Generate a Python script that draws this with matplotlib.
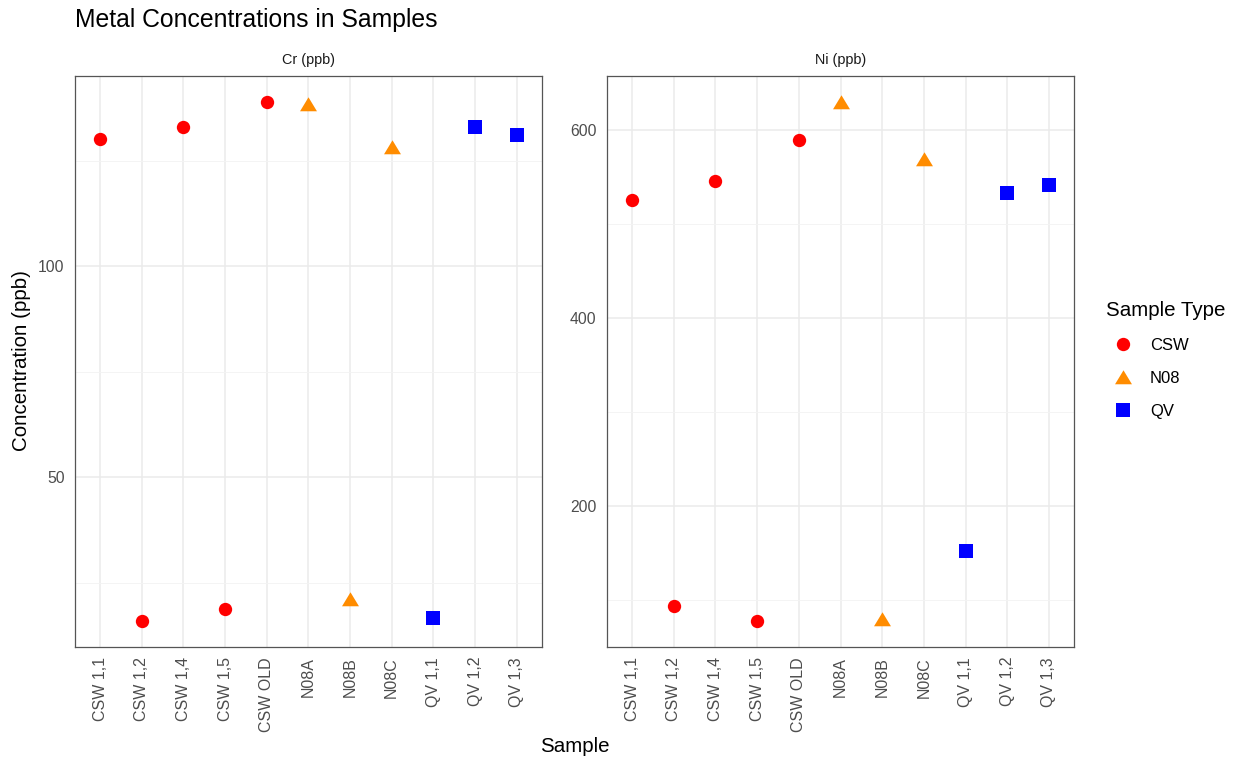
import matplotlib
matplotlib.use("Agg")
import matplotlib.pyplot as plt
from matplotlib.ticker import FixedLocator
from matplotlib.lines import Line2D

plt.rcParams['font.family'] = ['Liberation Sans', 'DejaVu Sans']

samples = ["CSW 1,1", "CSW 1,2", "CSW 1,4", "CSW 1,5", "CSW OLD",
           "N08A", "N08B", "N08C", "QV 1,1", "QV 1,2", "QV 1,3"]
sample_type = ["CSW", "CSW", "CSW", "CSW", "CSW",
               "N08", "N08", "N08", "QV", "QV", "QV"]
cr_ppb = [130.0, 16.0, 133.0, 18.8, 138.9, 138.3, 21.2, 128.2, 16.6, 132.9, 131.0]
ni_ppb = [526.0, 94.0, 546.0, 78.5, 589.4, 630.0, 80.0, 569.2, 152.6, 533.2, 542.0]

types = ["CSW", "N08", "QV"]
type_colors = {"CSW": "#FF0000", "N08": "#FF8C00", "QV": "#0000FF"}
# slightly flattened triangle, like the filled triangle glyph of R graphics
tri = [(0, 0.85), (-1, -0.8), (1, -0.8), (0, 0.85)]
type_markers = {"CSW": "o", "N08": tri, "QV": "s"}
type_sizes = {"CSW": 9.6, "N08": 12.2, "QV": 9.8}

panels = [
    ("Cr (ppb)", cr_ppb, [50, 100], [25, 75, 125]),
    ("Ni (ppb)", ni_ppb, [200, 400, 600], [100, 300, 500]),
]

fig = plt.figure(figsize=(12.39, 7.61), dpi=100)
W, H = 1239, 761
axes_px = [(75, 541.7), (607, 1074)]
top_px, bot_px = 76, 646.5

grid_major = "#EBEBEB"
grid_minor = "#F3F3F3"
text_gray = "#4D4D4D"

for (label, values, majors, minors), (x0, x1) in zip(panels, axes_px):
    ax = fig.add_axes([x0 / W, (H - bot_px) / H, (x1 - x0) / W, (bot_px - top_px) / H])
    xs = list(range(len(samples)))
    for t in types:
        px = [x for x, s in zip(xs, sample_type) if s == t]
        py = [v for v, s in zip(values, sample_type) if s == t]
        ax.plot(px, py, linestyle="none", marker=type_markers[t],
                markersize=type_sizes[t], color=type_colors[t],
                markeredgewidth=0, zorder=3)
    vmin, vmax = min(values), max(values)
    pad = (vmax - vmin) * 0.05
    ax.set_ylim(vmin - pad, vmax + pad)
    ax.set_xlim(-0.6, len(samples) - 1 + 0.6)

    ax.set_xticks(xs)
    ax.set_xticklabels(samples, rotation=90, fontsize=11.5, color=text_gray)
    ax.yaxis.set_major_locator(FixedLocator(majors))
    ax.yaxis.set_minor_locator(FixedLocator(minors))
    ax.set_yticklabels([str(m) for m in majors], fontsize=11.3, color=text_gray)
    ax.tick_params(axis="both", which="both", length=0, pad=7.5)

    ax.grid(True, which="major", axis="both", color=grid_major, linewidth=1.1, zorder=0)
    ax.grid(True, which="minor", axis="y", color=grid_minor, linewidth=0.6, zorder=0)
    ax.set_axisbelow(True)
    for sp in ax.spines.values():
        sp.set_color("#555555")
        sp.set_linewidth(0.9)

    strip_off = 16 / (bot_px - top_px)
    ax.text(0.5, 1 + strip_off, label, transform=ax.transAxes, fontsize=10.4,
            color="#1A1A1A", ha="center", va="center")

fig.text(75 / W, 1 - 20 / H, "Metal Concentrations in Samples",
         fontsize=17.8, ha="left", va="center", color="black")
fig.text(574.5 / W, 1 - 747 / H, "Sample", fontsize=14.8, ha="center", va="center")
fig.text(22 / W, 1 - 361 / H, "Concentration (ppb)", fontsize=14.8,
         rotation=90, ha="center", va="center")

handles = [Line2D([0], [0], linestyle="none", marker=type_markers[t],
                  markersize=type_sizes[t], color=type_colors[t],
                  markeredgewidth=0, label=t) for t in types]
leg = fig.legend(handles=handles, title="Sample Type", loc="upper left",
                 bbox_to_anchor=(1106 / W, 1 - 301 / H), frameon=False,
                 fontsize=12, title_fontsize=14.8, labelspacing=1.08,
                 handlelength=2.0, handletextpad=0.64, borderpad=0,
                 borderaxespad=0)
leg._legend_box.align = "left"

fig.savefig("out.png", dpi=100, facecolor="white")
